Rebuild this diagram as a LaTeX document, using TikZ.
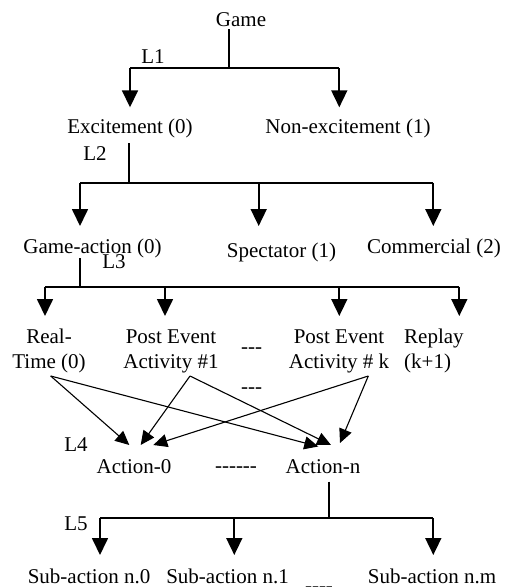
\documentclass[tikz,border=0pt]{standalone}
\usepackage{fontspec}
\setmainfont{Liberation Serif}
\usetikzlibrary{arrows.meta}
\begin{document}
\begin{tikzpicture}[x=1pt,y=-1pt,
  lbl/.style={anchor=base,inner sep=0pt,font=\fontsize{21}{25}\selectfont},
  two/.style={lbl,align=center},
  trunk/.style={line width=1.7pt},
  tree/.style={line width=1.7pt,-{Triangle[length=17pt,width=16pt]}},
  diag/.style={line width=1.1pt,-{Triangle[length=14pt,width=13pt]}}]
\useasboundingbox (0,0) rectangle (504,587);
% texts (two-line nodes are placed by the baseline of their last line)
\node[lbl] (game) at (241,26) {Game};
\node[lbl] (l1) at (153,63) {L1};
\node[lbl] (exc) at (130,133.5) {Excitement (0)};
\node[lbl] (nonexc) at (348,133.5) {Non-excitement (1)};
\node[lbl] (l2) at (95,160.7) {L2};
\node[lbl] (gact) at (92.5,253) {Game-action (0)};
\node[lbl] (spec) at (281.5,257) {Spectator (1)};
\node[lbl] (comm) at (434,253) {Commercial (2)};
\node[lbl] (l3) at (114,268) {L3};
\node[two] (rt) at (49,368) {Real-\\Time (0)};
\node[two] (pe1) at (171,368) {Post Event\\Activity \#1};
\node[lbl] (d1) at (251.7,353) {-{}-{}-};
\node[two] (pek) at (339,368) {Post Event\\Activity \# k};
\node[lbl,align=left,anchor=base west] (rep) at (404,368) {Replay\\(k+1)};
\node[lbl] (d2) at (251.7,393) {-{}-{}-};
\node[lbl] (l4) at (76,451.7) {L4};
\node[lbl] (act0) at (134,473) {Action-0};
\node[lbl] (d3) at (236,472) {-{}-{}-{}-{}-{}-};
\node[lbl] (actn) at (323,473) {Action-n};
\node[lbl] (l5) at (76,530) {L5};
\node[lbl] (sa0) at (89,583.3) {Sub-action n.0};
\node[lbl] (sa1) at (227.5,583.3) {Sub-action n.1};
\node[lbl] (sam) at (432,583.3) {Sub-action n.m};
\node[lbl] (d4) at (319,592) {-{}-{}-{}-};
% level 1
\coordinate (g0) at (229.3,29);
\coordinate (g1) at (229.3,68.3);
\coordinate (e0) at (130,68.3);
\coordinate (n0) at (339.3,68.3);
\coordinate (et) at (130,107.3);
\coordinate (nt) at (339.3,107.3);
\draw[trunk] (g0) -- (g1);
\draw[trunk] (e0) -- (n0);
\draw[tree] (e0) -- (et);
\draw[tree] (n0) -- (nt);
% level 2
\coordinate (x0) at (129.3,143);
\coordinate (x1) at (129.3,182.7);
\coordinate (ga0) at (80,182.7);
\coordinate (sp0) at (258.7,182.7);
\coordinate (co0) at (433.3,182.7);
\coordinate (gat) at (80,226);
\coordinate (spt) at (258.7,226);
\coordinate (cot) at (433.3,226);
\draw[trunk] (x0) -- (x1);
\draw[trunk] (ga0) -- (co0);
\draw[tree] (ga0) -- (gat);
\draw[tree] (sp0) -- (spt);
\draw[tree] (co0) -- (cot);
% level 3
\coordinate (a0) at (80,258);
\coordinate (a1) at (80,286.7);
\coordinate (r0) at (45,286.7);
\coordinate (p0) at (165,286.7);
\coordinate (k0) at (339.3,286.7);
\coordinate (q0) at (459.3,286.7);
\coordinate (rtt) at (45,316);
\coordinate (p1t) at (165,316);
\coordinate (pkt) at (339.3,316);
\coordinate (rpt) at (459.3,316);
\draw[trunk] (a0) -- (a1);
\draw[trunk] (r0) -- (q0);
\draw[tree] (r0) -- (rtt);
\draw[tree] (p0) -- (p1t);
\draw[tree] (k0) -- (pkt);
\draw[tree] (q0) -- (rpt);
% level 4 (many-to-many)
\coordinate (rts) at (50.7,376);
\coordinate (p1s) at (190,376);
\coordinate (pks) at (368.3,376);
\coordinate (t01) at (129.3,445);
\coordinate (t02) at (140.7,445);
\coordinate (t03) at (153.3,445);
\coordinate (tn1) at (318.3,446.5);
\coordinate (tn2) at (331,445);
\coordinate (tn3) at (340,443);
\draw[diag] (rts) -- (t01);
\draw[diag] (rts) -- (tn1);
\draw[diag] (p1s) -- (t02);
\draw[diag] (p1s) -- (tn2);
\draw[diag] (pks) -- (t03);
\draw[diag] (pks) -- (tn3);
% level 5
\coordinate (b0) at (329.3,481.7);
\coordinate (b1) at (329.3,518.3);
\coordinate (s00) at (100,518.3);
\coordinate (s10) at (234.3,518.3);
\coordinate (sm0) at (433.3,518.3);
\coordinate (s0t) at (100,555);
\coordinate (s1t) at (234.3,555);
\coordinate (smt) at (433.3,555);
\draw[trunk] (b0) -- (b1);
\draw[trunk] (s00) -- (sm0);
\draw[tree] (s00) -- (s0t);
\draw[tree] (s10) -- (s1t);
\draw[tree] (sm0) -- (smt);
\end{tikzpicture}
\end{document}
